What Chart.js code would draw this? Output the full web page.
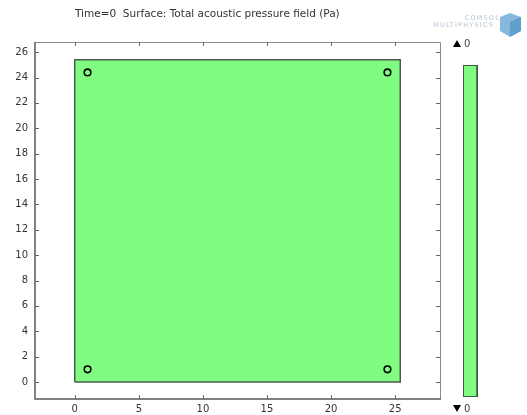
<!DOCTYPE html>
<html>
<head>
<meta charset="utf-8">
<script src="https://cdn.jsdelivr.net/npm/chart.js@4/dist/chart.umd.min.js"></script>
<style>
  html, body { margin: 0; padding: 0; background: #fff; }
  #wrap { position: relative; width: 527px; height: 415px; }
</style>
</head>
<body>
<div id="wrap"><canvas id="c" width="527" height="415"></canvas></div>
<script>
// Plate outline (mm)
const plateX = [0, 25.4, 25.4, 0, 0];
const plateY = [0, 0, 25.4, 25.4, 0];
// Point sources near the corners
const sourceX = [1, 24.4, 1, 24.4];
const sourceY = [1, 1, 24.4, 24.4];
// Axis ticks
const xTicks = [0, 5, 10, 15, 20, 25];
const yTicks = [0, 2, 4, 6, 8, 10, 12, 14, 16, 18, 20, 22, 24, 26];
// Colour range of the surface plot (Pa)
const rangeMax = 0;
const rangeMin = 0;

const titleText = 'Time=0  Surface: Total acoustic pressure field (Pa)';
const FONT = '"DejaVu Sans", sans-serif';
const fillGreen = '#80fd80';

const frameAndLegend = {
  id: 'frameAndLegend',
  afterDatasetsDraw(chart) {
    const { ctx, chartArea: a, scales: { x, y } } = chart;
    ctx.save();
    // frame
    ctx.strokeStyle = '#8a8a8a';
    ctx.lineWidth = 1;
    ctx.beginPath();
    ctx.moveTo(a.left, a.top + 0.5); ctx.lineTo(a.right + 0.5, a.top + 0.5);
    ctx.lineTo(a.right + 0.5, a.bottom);
    ctx.stroke();
    ctx.strokeStyle = '#5a5a5a';
    ctx.lineWidth = 1.5;
    ctx.beginPath();
    ctx.moveTo(a.left, a.top); ctx.lineTo(a.left, a.bottom); ctx.lineTo(a.right + 1, a.bottom);
    ctx.stroke();
    // inward ticks on all four sides
    ctx.lineWidth = 1;
    ctx.strokeStyle = '#666';
    const tl = 4;
    xTicks.forEach(v => {
      const px = Math.round(x.getPixelForValue(v)) + 0.5;
      ctx.beginPath();
      ctx.moveTo(px, a.bottom); ctx.lineTo(px, a.bottom - tl);
      ctx.moveTo(px, a.top); ctx.lineTo(px, a.top + tl);
      ctx.stroke();
    });
    yTicks.forEach(v => {
      const py = Math.round(y.getPixelForValue(v)) + 0.5;
      ctx.beginPath();
      ctx.moveTo(a.left, py); ctx.lineTo(a.left + tl, py);
      ctx.moveTo(a.right, py); ctx.lineTo(a.right - tl, py);
      ctx.stroke();
    });

    // title
    ctx.fillStyle = '#333';
    ctx.font = '10.5px ' + FONT;
    ctx.textBaseline = 'middle';
    ctx.textAlign = 'left';
    ctx.fillText(titleText, 75, 14);

    // colour bar
    const bx = 463, bw = 14, bt = 65, bb = 396;
    ctx.fillStyle = fillGreen;
    ctx.fillRect(bx, bt, bw, bb - bt);
    ctx.strokeStyle = '#3c5a3c';
    ctx.lineWidth = 1;
    ctx.strokeRect(bx + 0.5, bt + 0.5, bw, bb - bt);
    ctx.lineWidth = 1.5;
    ctx.beginPath();
    ctx.moveTo(bx + bw, bt); ctx.lineTo(bx + bw, bb + 1);
    ctx.stroke();

    ctx.fillStyle = '#000';
    ctx.beginPath();
    ctx.moveTo(453, 47); ctx.lineTo(457, 40); ctx.lineTo(461, 47); ctx.closePath(); ctx.fill();
    ctx.beginPath();
    ctx.moveTo(453, 405); ctx.lineTo(457, 412); ctx.lineTo(461, 405); ctx.closePath(); ctx.fill();
    ctx.fillStyle = '#444';
    ctx.font = '10px ' + FONT;
    ctx.fillText(String(rangeMax), 464, 44);
    ctx.fillText(String(rangeMin), 464, 409);

    // logo
    ctx.fillStyle = '#b9c3d3';
    ctx.font = '6.5px ' + FONT;
    ctx.textAlign = 'right';
    ctx.letterSpacing = '1.2px';
    ctx.fillText('COMSOL', 500, 18);
    ctx.fillText('MULTIPHYSICS', 494, 25);
    ctx.letterSpacing = '0px';
    ctx.fillStyle = '#86b8dc';
    ctx.beginPath();
    ctx.moveTo(500, 17); ctx.lineTo(510, 13); ctx.lineTo(521, 17); ctx.lineTo(521, 31);
    ctx.lineTo(510, 37); ctx.lineTo(500, 31); ctx.closePath(); ctx.fill();
    ctx.fillStyle = '#5f9fcc';
    ctx.beginPath();
    ctx.moveTo(510, 22); ctx.lineTo(521, 17); ctx.lineTo(521, 31); ctx.lineTo(510, 37); ctx.closePath(); ctx.fill();
    ctx.restore();
  }
};

new Chart(document.getElementById('c'), {
  type: 'scatter',
  data: {
    datasets: [
      {
        // filled plate surface: top edge filled down to y = 0
        type: 'line',
        data: [{ x: plateX[0], y: plateY[2] }, { x: plateX[1], y: plateY[2] }],
        backgroundColor: fillGreen,
        borderWidth: 0,
        fill: 'origin',
        pointRadius: 0,
        order: 3
      },
      {
        // plate boundary
        type: 'line',
        data: plateX.map((v, i) => ({ x: v, y: plateY[i] })),
        borderColor: '#4b5a4b',
        borderWidth: 1.5,
        fill: false,
        pointRadius: 0,
        tension: 0,
        order: 2
      },
      {
        data: sourceX.map((v, i) => ({ x: v, y: sourceY[i] })),
        pointStyle: 'circle',
        pointRadius: 3.3,
        borderColor: '#000',
        borderWidth: 1.6,
        backgroundColor: 'rgba(0,0,0,0)',
        order: 1
      }
    ]
  },
  options: {
    responsive: false,
    animation: false,
    events: [],
    layout: { padding: { left: 0, right: 87, top: 42, bottom: 0 } },
    plugins: { legend: { display: false }, title: { display: false }, tooltip: { enabled: false }, filler: { propagate: false } },
    scales: {
      x: {
        type: 'linear', min: -3.1, max: 28.5,
        afterBuildTicks: s => { s.ticks = xTicks.map(v => ({ value: v })); },
        afterFit: s => { s.height = 16; },
        grid: { display: false, drawTicks: false },
        border: { display: false },
        ticks: { padding: 4, color: '#333', font: { family: FONT, size: 10 }, maxRotation: 0 }
      },
      y: {
        type: 'linear', min: -1.34, max: 26.8,
        afterBuildTicks: s => { s.ticks = yTicks.map(v => ({ value: v })); },
        afterFit: s => { s.width = 35; },
        grid: { display: false, drawTicks: false },
        border: { display: false },
        ticks: { padding: 7, color: '#333', font: { family: FONT, size: 10 } }
      }
    }
  },
  plugins: [frameAndLegend]
});
</script>
</body>
</html>
